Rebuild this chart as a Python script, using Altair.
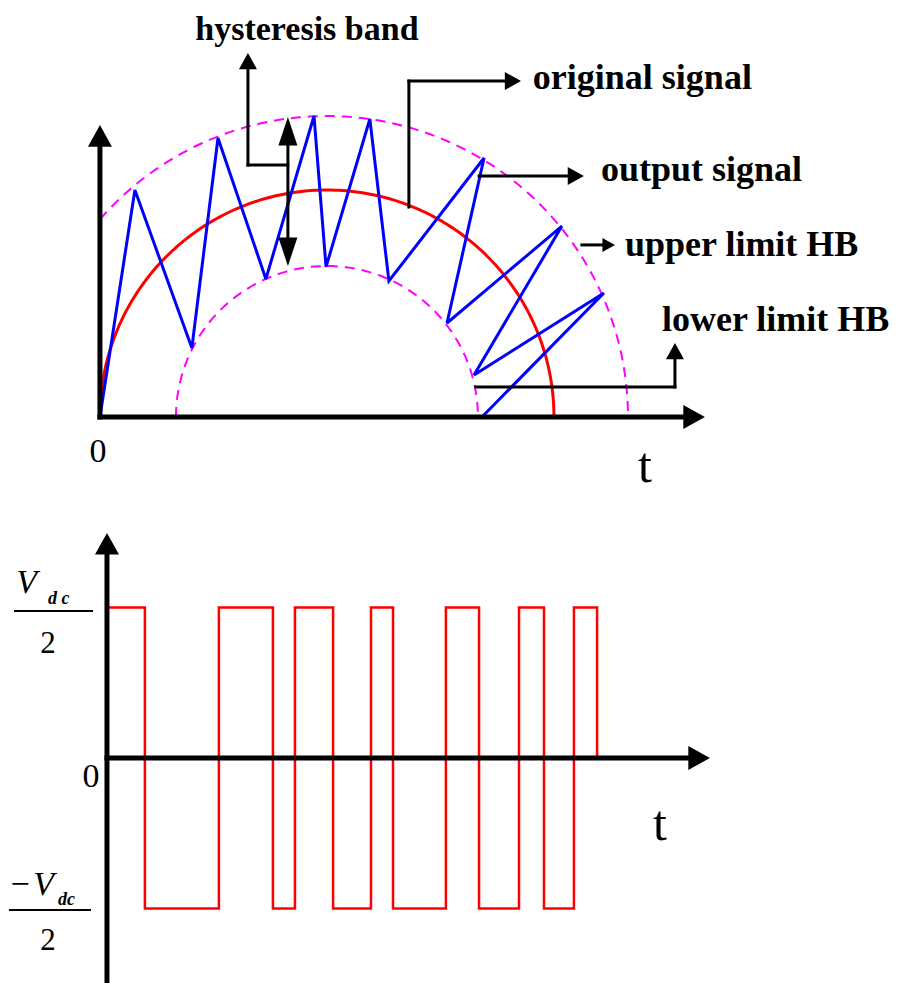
import altair as alt
import numpy as np
import pandas as pd

# ---------------- data: top panel (units = amplitude of original signal) ----------------
ref_center = 1.0          # centre of the original (reference) half-sine
ref_radius = 1.0          # original signal amplitude
upper_radius = 1.326      # upper limit of hysteresis band
lower_radius = 0.665      # lower limit of hysteresis band

out_t = [0.0, 0.154, 0.405, 0.520, 0.731, 0.943, 0.996, 1.189, 1.273,
         1.692, 1.529, 2.035, 1.648, 2.220, 1.683]
out_v = [0.0, 1.000, 0.304, 1.229, 0.608, 1.326, 0.661, 1.313, 0.599,
         1.141, 0.414, 0.841, 0.185, 0.546, 0.0]

# ---------------- data: bottom panel (switching signal, units of Vdc/2) ----------------
sw_t = [0.0, 0.167, 0.493, 0.731, 0.828, 0.996, 1.163, 1.260, 1.493,
        1.639, 1.815, 1.925, 2.057, 2.159]
sw_v = [1, -1, 1, -1, 1, -1, 1, -1, 1, -1, 1, -1, 1, 0]

FONT = "Liberation Serif"

# ---------------- scales ----------------
XT = alt.Scale(domain=[-0.405, 3.542], nice=False, zero=False)
YT = alt.Scale(domain=[-0.366, 1.802], nice=False, zero=False)
XB = alt.Scale(domain=[-0.436, 3.511], nice=False, zero=False)
YB = alt.Scale(domain=[-1.495, 1.714], nice=False, zero=False)


def arc_df(r, cx, n=181):
    th0 = np.arccos(min(1.0, cx / r))
    th = np.linspace(th0, np.pi, n)
    return pd.DataFrame({"x": cx - r * np.cos(th), "y": r * np.sin(th), "i": np.arange(n)})


def enc_xy(xs, ys):
    return dict(x=alt.X("x:Q", scale=xs, axis=None), y=alt.Y("y:Q", scale=ys, axis=None))


def rules(segs, xs, ys):
    df = pd.DataFrame(segs, columns=["x", "y", "x2", "y2", "w"])
    return alt.Chart(df).mark_rule(color="black", strokeCap="square").encode(
        x=alt.X("x:Q", scale=xs, axis=None), y=alt.Y("y:Q", scale=ys, axis=None),
        x2="x2:Q", y2="y2:Q", strokeWidth=alt.StrokeWidth("w:Q", scale=None, legend=None))


def heads(pts, xs, ys, shape="M0,0L-1,1.8L1,1.8Z"):
    df = pd.DataFrame(pts, columns=["x", "y", "a", "s"])
    return alt.Chart(df).mark_point(shape=shape, filled=True, color="black", opacity=1,
                                    strokeWidth=0).encode(
        **enc_xy(xs, ys),
        angle=alt.Angle("a:Q", scale=None),
        size=alt.Size("s:Q", scale=None, legend=None))


def texts(items, xs, ys, size, weight="normal", style="normal", align="left"):
    df = pd.DataFrame(items, columns=["x", "y", "label"])
    return alt.Chart(df).mark_text(font=FONT, fontSize=size, fontWeight=weight, fontStyle=style,
                                   align=align, baseline="alphabetic", color="black").encode(
        **enc_xy(xs, ys), text="label:N")


# ---------------- top panel ----------------
ref_arc = arc_df(ref_radius, ref_center)
up_arc = arc_df(upper_radius, ref_center)
lo_arc = arc_df(lower_radius, ref_center)
out_df = pd.DataFrame({"x": out_t, "y": out_v, "i": range(len(out_t))})

dashed = alt.layer(
    *[alt.Chart(d).mark_line(color="#FF00FF", strokeWidth=2, strokeDash=[10, 7]).encode(
        **enc_xy(XT, YT), order="i:Q") for d in (up_arc, lo_arc)]
)
ref_line = alt.Chart(ref_arc).mark_line(color="#FF0000", strokeWidth=3).encode(
    **enc_xy(XT, YT), order="i:Q")
out_line = alt.Chart(out_df).mark_line(color="#0000FF", strokeWidth=3, strokeJoin="miter",
                                       strokeMiterLimit=3).encode(**enc_xy(XT, YT), order="i:Q")

top_segs = [
    (0, 0, 0, 1.24, 5),
    (0, 0, 2.61, 0, 5),
    (0.652, 1.110, 0.652, 1.57, 3),
    (0.652, 1.110, 0.828, 1.110, 3),
    (0.828, 1.29, 0.828, 0.70, 3),
    (1.361, 0.925, 1.361, 1.480, 3),
    (1.361, 1.480, 1.82, 1.480, 3),
    (1.670, 1.062, 2.10, 1.062, 3),
    (2.123, 0.758, 2.24, 0.758, 3),
    (1.656, 0.132, 2.533, 0.132, 3),
    (2.533, 0.132, 2.533, 0.29, 3),
]
top_heads = [
    (0, 1.286, 0, 576),
    (2.665, 0, 90, 576),
    (0.652, 1.604, 0, 324),
    (1.855, 1.480, 90, 324),
    (2.132, 1.062, 90, 324),
    (2.269, 0.758, 90, 196),
    (2.533, 0.326, 0, 324),
]
dbl_heads = [
    (0.828, 1.322, 0, 361),
    (0.828, 0.665, 180, 361),
]
top_labels = [
    (1.907, 1.445, "original signal"),
    (2.207, 1.040, "output signal"),
    (2.313, 0.709, "upper limit HB"),
    (2.476, 0.379, "lower limit HB"),
]

top = alt.layer(
    dashed, ref_line, out_line,
    rules(top_segs, XT, YT),
    heads(top_heads, XT, YT),
    heads(dbl_heads, XT, YT, shape="M0,0L-1,3L1,3Z"),
    texts([(0.420, 1.662, "hysteresis band")], XT, YT, 34, weight="bold"),
    texts(top_labels, XT, YT, 36, weight="bold"),
    texts([(-0.009, -0.198, "0")], XT, YT, 34, align="center"),
    texts([(2.401, -0.286, "t")], XT, YT, 50, align="center"),
).properties(width=896, height=492)

# ---------------- bottom panel ----------------
sw_df = pd.DataFrame({"x": sw_t, "y": sw_v, "i": range(len(sw_t))})
sw_line = alt.Chart(sw_df).mark_line(color="#FF0000", strokeWidth=2.5, interpolate="step-after",
                                     strokeJoin="miter").encode(**enc_xy(XB, YB), order="i:Q")

bot_segs = [
    (0, -1.495, 0, 1.42, 5),
    (0, 0, 2.60, 0, 5),
    (-0.405, 0.977, -0.066, 0.977, 2),
    (-0.427, -1.010, -0.075, -1.010, 2),
]
bot_heads = [
    (0, 1.495, 0, 576),
    (2.656, 0, 90, 576),
]

bottom = alt.layer(
    sw_line,
    rules(bot_segs, XB, YB),
    heads(bot_heads, XB, YB),
    texts([(-0.400, 1.096, "V"), (-0.325, -0.910, "V")], XB, YB, 34, style="italic"),
    texts([(-0.260, 1.023, "d c"), (-0.216, -0.977, "dc")], XB, YB, 18, weight="bold", style="italic"),
    texts([(-0.425, -0.910, "\u2212")], XB, YB, 34),
    texts([(-0.260, 0.698, "2"), (-0.260, -1.276, "2")], XB, YB, 31, align="center"),
    texts([(-0.070, -0.193, "0")], XB, YB, 34, align="center"),
    texts([(2.436, -0.545, "t")], XB, YB, 50, align="center"),
).properties(width=896, height=483)

chart = alt.vconcat(top, bottom, spacing=0, bounds="flush").properties(
    padding=0).configure_view(stroke=None)

chart.save("out.html", embed_options={"renderer": "svg", "actions": False})
